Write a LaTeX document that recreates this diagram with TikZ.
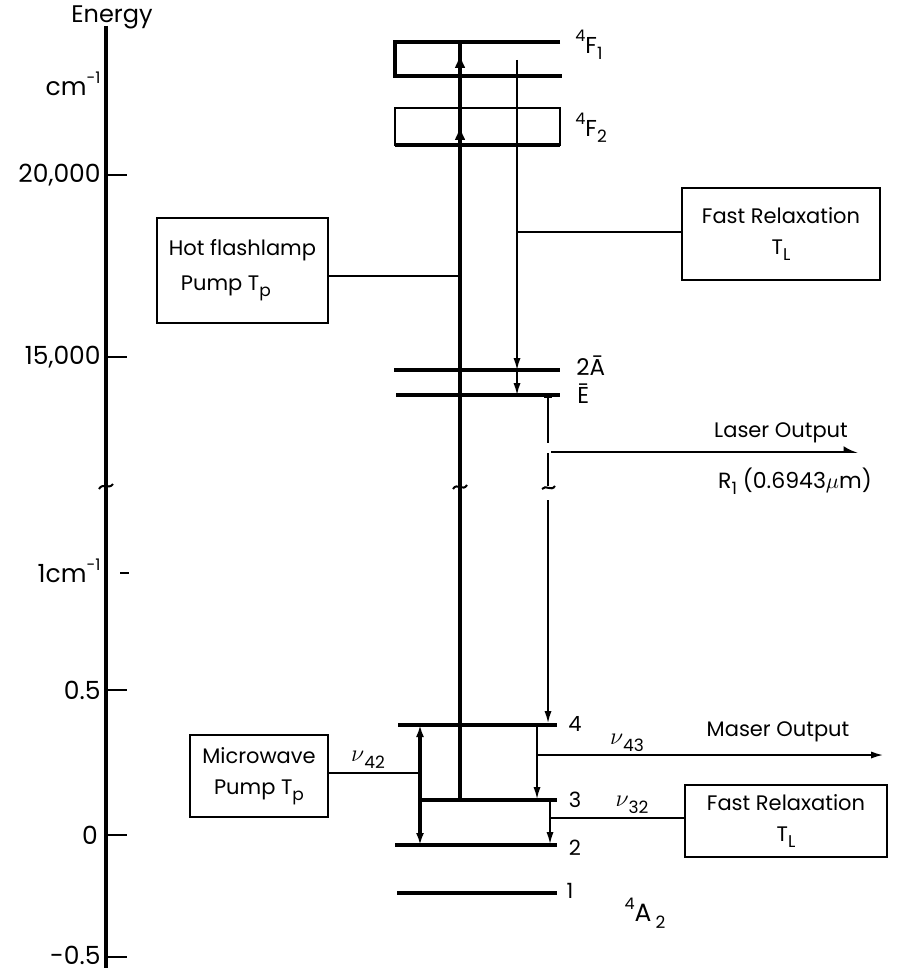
\documentclass[tikz,border=0pt]{standalone}
\usepackage{fontspec}
\setmainfont{Poppins}
\usetikzlibrary{arrows.meta}
\newcommand\sbs[1]{\raisebox{-0.5ex}{\fontsize{8.5}{9}\selectfont #1}}
\newcommand\sps[1]{\raisebox{0.9ex}{\fontsize{8}{9}\selectfont #1}}
\begin{document}
\begin{tikzpicture}[x=0.5pt,y=-0.5pt,
  lvl/.style={line width=2pt},
  thk/.style={line width=1.9pt},
  thn/.style={line width=0.8pt},
  tick/.style={line width=1pt},
  arr/.style={-{Latex[length=6pt,width=3.6pt]}},
  bigarr/.style={-{Latex[length=7pt,width=5.5pt]}},
  boxed/.style={draw,line width=1pt,rectangle,inner sep=0pt,align=center,font=\fontsize{10.5}{15.5}\selectfont},
  lbl/.style={inner sep=0pt,font=\fontsize{10.5}{12}\selectfont},
  nulbl/.style={inner sep=0pt,font=\fontsize{12}{13}\selectfont},
  num/.style={inner sep=0pt,font=\fontsize{12.5}{14}\selectfont},
  sq/.style={line width=1pt}]
\useasboundingbox (0,0) rectangle (902,973);
% ---------- energy axis ----------
\coordinate (axtop) at (106,26);
\coordinate (axbot) at (106,968);
\draw[line width=2pt] (axtop) -- (axbot);
\node[lbl,font=\fontsize{12}{13}\selectfont] (energy) at (112,17) {Energy};
\node[num,anchor=east] (cm) at (101,84) {cm\sps{-1}};
\foreach \yy/\tx/\nm in {175/{20,000}/t20k, 357/{15,000}/t15k, 690/{0.5}/thalf}{
  \node[num,anchor=east] (\nm) at (101,\yy) {\tx};
  \draw[tick] (106,\yy) -- (127,\yy);
}
\node[num,anchor=east] (tmhalf) at (101,955) {-0.5};
\draw[tick] (106,957) -- (127,957);
\node[num] (tzero) at (90,835) {0};
\draw[tick] (106,835) -- (127,835);
\node[num,anchor=east] (tone) at (101,571) {1cm\sps{-1}};
\draw[line width=1.2pt] (120,573) -- (129,573);
\draw[sq] (99,489) .. controls (103,482) and (109,490) .. (113,484);
% ---------- upper levels ----------
\draw[lvl] (560,42) -- (395,42) -- (395,76) -- (562,76);
\draw[line width=1.3pt] (395,108) rectangle (560,145);
\draw[lvl] (395,145) -- (560,145);
\draw[lvl] (394,370) -- (560,370);
\draw[lvl] (396,395) -- (560,395);
\node[lbl,anchor=west,font=\fontsize{11.5}{12}\selectfont] (F1) at (575,45) {\sps{4}F\sbs{1}};
\node[lbl,anchor=west,font=\fontsize{11.5}{12}\selectfont] (F2) at (575,128) {\sps{4}F\sbs{2}};
\node[lbl,anchor=west,font=\fontsize{11.5}{12}\selectfont] (A2bar) at (576,366) {2\=A};
\node[lbl,anchor=west,font=\fontsize{11.5}{12}\selectfont] (Ebar) at (577,394) {\=E};
% ---------- lower levels ----------
\draw[lvl] (398,725) -- (557,725);
\draw[lvl] (420,800) -- (557,800);
\draw[lvl] (395,845) -- (557,845);
\draw[lvl] (397,893) -- (557,893);
\node[lbl] (n4) at (575,724) {4};
\node[lbl] (n3) at (575,800) {3};
\node[lbl] (n2) at (575,848) {2};
\node[lbl] (n1) at (570,891) {1};
\node[lbl,font=\fontsize{12.5}{14}\selectfont] (A2) at (645,913) {\sps{4}A\,\sbs{2}};
% ---------- flashlamp pump ----------
\coordinate (p3) at (460,800);
\coordinate (ptop) at (460,42);
\coordinate (pmid) at (460,276);
\draw[thk] (p3) -- (ptop);
\draw[thk,bigarr] (460,150) -- (460,126);
\draw[thk,bigarr] (460,80) -- (460,54);
\draw[sq] (453,489) .. controls (457,482) and (463,492) .. (467,485);
\node[boxed,minimum width=85.5pt,minimum height=52.5pt,align=left] (hf) at (242.5,270.5)
  {Hot flashlamp\\[2pt]\hspace{6pt}Pump T\sbs{p}};
\draw[thn] (hf.east |- pmid) -- (pmid);
% ---------- fast relaxation (upper) ----------
\coordinate (rtop) at (517,60);
\coordinate (rA) at (517,370);
\coordinate (rE) at (517,395);
\coordinate (rmid) at (517,232);
\draw[thn,arr] (rtop) -- (rA);
\draw[thn,arr] (rA) -- (rE);
\node[boxed,minimum width=99pt,minimum height=46pt] (fr1) at (781,234)
  {Fast Relaxation\\T\sbs{L}};
\draw[thn] (rmid) -- (fr1.west |- rmid);
% ---------- laser ----------
\coordinate (lE) at (548,397);
\coordinate (l4) at (548,723);
\draw[thn] (544,397) -- (552,397);
\draw[thn] (lE) -- (548,443);
\draw[thn] (548,453) -- (548,486);
\draw[sq] (542,489) .. controls (546,484) and (551,492) .. (555,486);
\draw[thn,arr] (548,500) -- (l4);
\coordinate (lo1) at (551,452);
\coordinate (lo2) at (858,452);
\draw[thn,-{Latex[length=6pt,width=6pt,harpoon]}] (lo1) -- (lo2);
\node[lbl] (laser) at (781,433) {Laser Output};
\node[lbl,font=\fontsize{11}{12}\selectfont] (R1) at (795,481) {R\sbs{1} (0.6943$\mu$m)};
% ---------- microwave pump ----------
\coordinate (m4) at (420,725);
\coordinate (m2) at (420,845);
\coordinate (mmid) at (420,773);
\draw[thk,{Latex[length=6pt,width=4pt]}-{Latex[length=6pt,width=4pt]}] (m4) -- (m2);
\node[boxed,minimum width=69pt,minimum height=41pt] (mw) at (259,776)
  {Microwave\\Pump T\sbs{p}};
\draw[thn] (mw.east |- mmid) -- (mmid);
\node[nulbl] (nu42) at (368,760) {$\nu$\sbs{42}};
% ---------- maser ----------
\coordinate (s4) at (537,725);
\coordinate (s3) at (537,799);
\coordinate (smid) at (537,755);
\coordinate (send) at (883,755);
\draw[thn,arr] (s4) -- (s3);
\draw[thn,arr] (smid) -- (send);
\node[nulbl] (nu43) at (627,743) {$\nu$\sbs{43}};
\node[lbl] (maser) at (778,732) {Maser Output};
% ---------- fast relaxation (lower) ----------
\coordinate (v3) at (550,800);
\coordinate (v2) at (550,844);
\coordinate (vmid) at (550,818);
\draw[thn,arr] (v3) -- (v2);
\node[boxed,minimum width=101pt,minimum height=36pt] (fr2) at (786,821)
  {Fast Relaxation\\T\sbs{L}};
\draw[thn] (vmid) -- (fr2.west |- vmid);
\node[nulbl] (nu32) at (632,805) {$\nu$\sbs{32}};
\end{tikzpicture}
\end{document}
